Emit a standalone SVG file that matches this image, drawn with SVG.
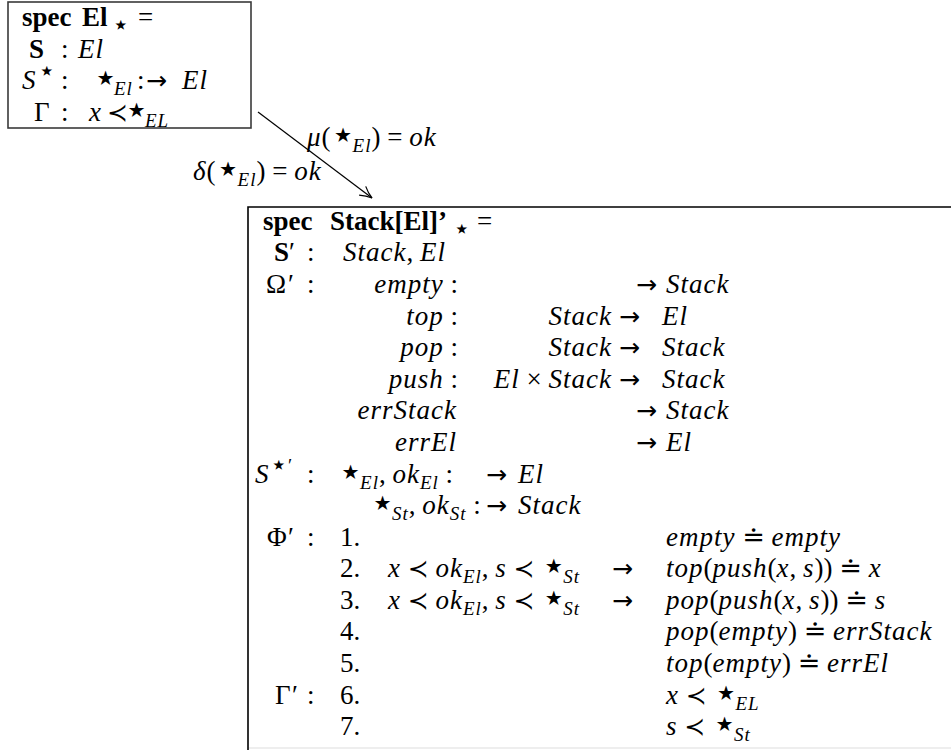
<svg xmlns="http://www.w3.org/2000/svg" width="951" height="750" viewBox="0 0 951 750">
<defs>
<style>
text{font-family:"Liberation Serif","DejaVu Serif",serif;font-size:27px;fill:#000}
.i{font-style:italic;letter-spacing:1px}
.b{font-weight:bold}
.s{font-size:19px}
.st{font-family:"DejaVu Sans",sans-serif;font-size:40px;letter-spacing:-3px}
.sts{font-family:"DejaVu Sans",sans-serif;font-size:28px}
.op{font-family:"DejaVu Sans",sans-serif;font-size:25px}
.box{fill:#fff;stroke:#3a3a3a;stroke-width:1.6}
.edge{fill:none;stroke:#000;stroke-width:1.2}
.r{text-anchor:end}
</style>
<marker id="ah" markerWidth="14" markerHeight="14" refX="13" refY="7" orient="auto" markerUnits="userSpaceOnUse">
<path d="M1,1.5 Q7,5.5 13,7 Q7,8.5 1,12.5" fill="none" stroke="#000" stroke-width="1.2"/>
</marker>
</defs>
<rect width="951" height="750" fill="#fff"/>

<g id="spec-el">
<rect class="box" x="8" y="2" width="243" height="126"/>
<text class="b" x="22" y="26">spec</text>
<text class="b" x="82" y="26">El</text>
<text class="sts" x="112" y="34">⋆</text>
<text x="138" y="26">=</text>
<text class="b" x="29" y="58">S</text>
<text x="61" y="58">:</text>
<text class="i" x="78" y="58">El</text>
<text class="i" x="22" y="89">S</text>
<text class="sts" x="38" y="80">⋆</text>
<text x="61" y="89">:</text>
<text class="st" x="93" y="91">⋆</text>
<text class="i s" x="114" y="95">El</text>
<text x="137" y="89">:</text>
<text class="op" x="146" y="89">→</text>
<text class="i" x="182" y="89">El</text>
<text x="34" y="121">Γ</text>
<text x="61" y="121">:</text>
<text class="i" x="89" y="121">x</text>
<text class="op" x="107" y="121">≺</text>
<text class="st" x="124" y="123">⋆</text>
<text class="i s" x="145" y="127">EL</text>
</g>

<g id="connectors">
<line class="edge" x1="258" y1="112" x2="372" y2="198" marker-end="url(#ah)"/>
<text x="307" y="146"><tspan class="i">μ</tspan>(<tspan class="st" dy="2">⋆</tspan><tspan class="i s" dy="4">El</tspan><tspan dy="-6">) = </tspan><tspan class="i">ok</tspan></text>
<text x="193" y="180"><tspan class="i">δ</tspan>(<tspan class="st" dy="2">⋆</tspan><tspan class="i s" dy="4">El</tspan><tspan dy="-6">) = </tspan><tspan class="i">ok</tspan></text>
</g>

<g id="spec-stack">
<line x1="248" y1="748" x2="951" y2="748" stroke="#e8e8e8" stroke-width="1.5"/>
<path d="M248,750 V207 H951" fill="none" stroke="#000" stroke-width="1.6"/>
<text class="b" x="263" y="230">spec</text>
<text class="b" x="330" y="230">Stack[El]’</text>
<text class="sts" x="453" y="238">⋆</text>
<text x="477" y="230">=</text>

<text class="b" x="274" y="261">S</text>
<text x="289" y="261">′</text>
<text x="307" y="261">:</text>
<text x="343" y="261"><tspan class="i">Stack</tspan>, <tspan class="i">El</tspan></text>

<text x="266" y="293">Ω</text>
<text x="288" y="293">′</text>
<text x="307" y="293">:</text>
<text class="r" x="458" y="293"><tspan class="i">empty</tspan> :</text>
<text class="op" x="636" y="293">→</text>
<text class="i" x="666" y="293">Stack</text>

<text class="r" x="458" y="325"><tspan class="i">top</tspan> :</text>
<text class="i r" x="612" y="325">Stack</text>
<text class="op" x="619" y="325">→</text>
<text class="i" x="662" y="325">El</text>

<text class="r" x="458" y="356"><tspan class="i">pop</tspan> :</text>
<text class="i r" x="612" y="356">Stack</text>
<text class="op" x="619" y="356">→</text>
<text class="i" x="662" y="356">Stack</text>

<text class="r" x="458" y="388"><tspan class="i">push</tspan> :</text>
<text class="r" x="612" y="388"><tspan class="i">El</tspan> × <tspan class="i">Stack</tspan></text>
<text class="op" x="619" y="388">→</text>
<text class="i" x="662" y="388">Stack</text>

<text class="i r" x="457" y="419">errStack</text>
<text class="op" x="636" y="419">→</text>
<text class="i" x="666" y="419">Stack</text>

<text class="i r" x="457" y="451">errEl</text>
<text class="op" x="636" y="451">→</text>
<text class="i" x="666" y="451">El</text>

<text class="i" x="255" y="483">S</text>
<text class="sts" x="270" y="474">⋆</text>
<text class="s" x="288" y="472">′</text>
<text x="307" y="483">:</text>
<text x="338" y="483"><tspan class="st" dy="2">⋆</tspan><tspan class="i s" dy="4">El</tspan><tspan dy="-6">, </tspan><tspan class="i">ok</tspan><tspan class="i s" dy="6">El</tspan><tspan dy="-6"> :</tspan></text>
<text class="op" x="486" y="483">→</text>
<text class="i" x="518" y="483">El</text>

<text x="370" y="514"><tspan class="st" dy="2">⋆</tspan><tspan class="i s" dy="4">St</tspan><tspan dy="-6">, </tspan><tspan class="i">ok</tspan><tspan class="i s" dy="6">St</tspan><tspan dy="-6"> :</tspan></text>
<text class="op" x="486" y="514">→</text>
<text class="i" x="518" y="514">Stack</text>

<text x="267" y="546">Φ</text>
<text x="288" y="546">′</text>
<text x="307" y="546">:</text>
<text x="340" y="546">1.</text>
<text x="666" y="546"><tspan class="i">empty</tspan> ≐ <tspan class="i">empty</tspan></text>

<text x="340" y="577">2.</text>
<text x="388" y="577"><tspan class="i">x</tspan> <tspan class="op">≺</tspan> <tspan class="i">ok</tspan><tspan class="i s" dy="6">El</tspan><tspan dy="-6">, </tspan><tspan class="i">s</tspan> <tspan class="op">≺</tspan> <tspan class="st" dy="2">⋆</tspan><tspan class="i s" dy="4">St</tspan></text>
<text class="op" x="612" y="577">→</text>
<text x="666" y="577"><tspan class="i">top</tspan>(<tspan class="i">push</tspan>(<tspan class="i">x</tspan>, <tspan class="i">s</tspan>)) ≐ <tspan class="i">x</tspan></text>

<text x="340" y="609">3.</text>
<text x="388" y="609"><tspan class="i">x</tspan> <tspan class="op">≺</tspan> <tspan class="i">ok</tspan><tspan class="i s" dy="6">El</tspan><tspan dy="-6">, </tspan><tspan class="i">s</tspan> <tspan class="op">≺</tspan> <tspan class="st" dy="2">⋆</tspan><tspan class="i s" dy="4">St</tspan></text>
<text class="op" x="612" y="609">→</text>
<text x="666" y="609"><tspan class="i">pop</tspan>(<tspan class="i">push</tspan>(<tspan class="i">x</tspan>, <tspan class="i">s</tspan>)) ≐ <tspan class="i">s</tspan></text>

<text x="340" y="640">4.</text>
<text x="666" y="640"><tspan class="i">pop</tspan>(<tspan class="i">empty</tspan>) ≐ <tspan class="i">errStack</tspan></text>

<text x="340" y="672">5.</text>
<text x="666" y="672"><tspan class="i">top</tspan>(<tspan class="i">empty</tspan>) ≐ <tspan class="i">errEl</tspan></text>

<text x="275" y="704">Γ</text>
<text x="292" y="704">′</text>
<text x="307" y="704">:</text>
<text x="340" y="704">6.</text>
<text x="666" y="704"><tspan class="i">x</tspan> <tspan class="op">≺</tspan> <tspan class="st" dy="2">⋆</tspan><tspan class="i s" dy="4">EL</tspan></text>

<text x="340" y="735">7.</text>
<text x="666" y="735"><tspan class="i">s</tspan> <tspan class="op">≺</tspan> <tspan class="st" dy="2">⋆</tspan><tspan class="i s" dy="4">St</tspan></text>
</g>
</svg>
